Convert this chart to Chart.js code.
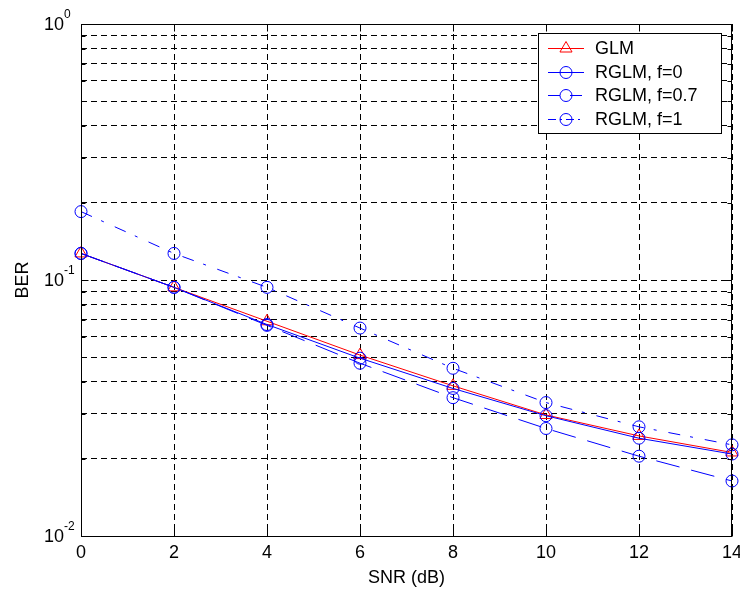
<!DOCTYPE html>
<html><head><meta charset="utf-8">
<script src="https://cdn.jsdelivr.net/npm/chart.js@4/dist/chart.umd.min.js"></script>
<style>html,body{margin:0;padding:0;background:#fff;}#wrap{width:740px;height:592px;position:relative;}</style>
</head><body><div id="wrap"><canvas id="c" width="740" height="592"></canvas></div>
<script>
// ---- data ----
const snrDb = [0, 2, 4, 6, 8, 10, 12, 14];
const berGLM   = [0.127, 0.0936, 0.069, 0.0509, 0.0386, 0.0297, 0.0246, 0.0212];
const berRGLM0 = [0.127, 0.0936, 0.067, 0.0495, 0.0377, 0.0295, 0.0241, 0.0209];
const berRGLM07= [0.127, 0.0936, 0.0665, 0.0473, 0.0347, 0.0263, 0.0205, 0.0164];
const berRGLM1 = [0.185, 0.127, 0.0936, 0.0649, 0.0452, 0.0332, 0.0267, 0.0227];
const seriesNames = ['GLM', 'RGLM, f=0', 'RGLM, f=0.7', 'RGLM, f=1'];
const xTickValues = [0, 2, 4, 6, 8, 10, 12, 14];
const yGridValues = [0.01,0.02,0.03,0.04,0.05,0.06,0.07,0.08,0.09,0.1,0.2,0.3,0.4,0.5,0.6,0.7,0.8,0.9,1];
const yLabelValues = [1, 0.1, 0.01];
const yLabelExponents = ['0', '-1', '-2'];
const xTitle = 'SNR (dB)';
const yTitle = 'BER';

const FONT = '"Liberation Sans", Arial, Helvetica, sans-serif';
const pts = arr => snrDb.map((x, i) => ({x, y: arr[i]}));

const styles = [
  {color:'#ff0000', pointStyle:'triangle', dash:[], legendDash:[], order:4},
  {color:'#0000ff', pointStyle:'circle', dash:[], legendDash:[], order:3},
  {color:'#0000ff', pointStyle:'circle', dash:[24,12], legendDash:[12,10], order:2},
  {color:'#0000ff', pointStyle:'circle', dash:[12,10,3,12], legendDash:[8,4,2,4], order:1}
];
const seriesData = [berGLM, berRGLM0, berRGLM07, berRGLM1];

const datasets = seriesData.map((arr, i) => ({
  label: seriesNames[i],
  data: pts(arr),
  borderColor: styles[i].color,
  backgroundColor: 'rgba(0,0,0,0)',
  borderWidth: 1,
  borderDash: styles[i].dash,
  pointStyle: styles[i].pointStyle,
  pointRadius: styles[i].pointStyle === 'triangle' ? 7 : 6,
  pointBorderColor: styles[i].color,
  pointBackgroundColor: 'rgba(0,0,0,0)',
  pointBorderWidth: 1,
  tension: 0,
  fill: false,
  clip: false,
  order: styles[i].order
}));

const decor = {
  id: 'decor',
  beforeDraw(chart) {
    const ctx = chart.ctx;
    ctx.save(); ctx.fillStyle = '#fff'; ctx.fillRect(0, 0, chart.width, chart.height); ctx.restore();
  },
  afterDraw(chart) {
    const {ctx, chartArea: a, scales: {x, y}} = chart;
    const L = Math.round(a.left) + 0.5, R = Math.round(a.right) - 0.5;
    const T = Math.round(a.top) + 0.5, B = Math.round(a.bottom) + 0.5;
    ctx.save();
    ctx.strokeStyle = '#000'; ctx.lineWidth = 1; ctx.setLineDash([]);
    // frame
    ctx.beginPath();
    ctx.moveTo(L, T); ctx.lineTo(R, T); ctx.lineTo(R, B); ctx.lineTo(L, B); ctx.closePath();
    ctx.stroke();
    // x ticks inward
    ctx.beginPath();
    xTickValues.forEach(v => {
      const px = Math.round(x.getPixelForValue(v)) + 0.5;
      ctx.moveTo(px, B); ctx.lineTo(px, B - 7);
      ctx.moveTo(px, T); ctx.lineTo(px, T + 7);
    });
    // y ticks inward
    yGridValues.forEach(v => {
      const py = Math.round(y.getPixelForValue(v)) + 0.5;
      const major = yLabelValues.includes(v);
      const len = major ? 7 : 4;
      ctx.moveTo(L, py); ctx.lineTo(L + len, py);
      ctx.moveTo(R, py); ctx.lineTo(R - len, py);
    });
    ctx.stroke();

    // tick labels
    ctx.fillStyle = '#000';
    ctx.font = '18px ' + FONT;
    ctx.textAlign = 'center'; ctx.textBaseline = 'middle';
    xTickValues.forEach(v => ctx.fillText(String(v), x.getPixelForValue(v), 553));
    yLabelValues.forEach((v, i) => {
      const py = y.getPixelForValue(v);
      ctx.font = '18px ' + FONT;
      ctx.textAlign = 'right'; ctx.textBaseline = 'middle';
      ctx.fillText('10', 64, py + 1);
      ctx.font = '12px ' + FONT;
      ctx.textAlign = 'left';
      ctx.fillText(yLabelExponents[i], 64, py - 9);
    });
    // axis titles
    ctx.font = '18px ' + FONT;
    ctx.textAlign = 'center'; ctx.textBaseline = 'middle';
    ctx.fillText(xTitle, (a.left + a.right) / 2, 578);
    ctx.save();
    ctx.translate(23, (a.top + a.bottom) / 2);
    ctx.rotate(-Math.PI / 2);
    ctx.fillText(yTitle, 0, 0);
    ctx.restore();

    // legend
    const lx = 538.5, ly = 33.5, lw = 183, lh = 100;
    ctx.fillStyle = '#fff';
    ctx.fillRect(lx, ly, lw, lh);
    ctx.strokeStyle = '#000'; ctx.lineWidth = 1;
    ctx.strokeRect(lx, ly, lw, lh);
    seriesNames.forEach((name, i) => {
      const cy = Math.round(48 + i * 23.5) + 0.5;
      const s = styles[i];
      ctx.save();
      ctx.strokeStyle = s.color; ctx.fillStyle = 'rgba(0,0,0,0)'; ctx.lineWidth = 1;
      ctx.setLineDash(s.legendDash);
      ctx.beginPath(); ctx.moveTo(548, cy); ctx.lineTo(584, cy); ctx.stroke();
      ctx.setLineDash([]);
      Chart.helpers.drawPoint(ctx, {pointStyle: s.pointStyle, radius: s.pointStyle === 'triangle' ? 7 : 6, borderWidth: 1, rotation: 0}, 566, cy);
      ctx.restore();
      ctx.fillStyle = '#000';
      ctx.font = '18px ' + FONT;
      ctx.textAlign = 'left'; ctx.textBaseline = 'middle';
      ctx.fillText(name, 595, cy + 1);
    });
    ctx.restore();
  }
};

new Chart(document.getElementById('c'), {
  type: 'line',
  data: {datasets},
  options: {
    responsive: false,
    animation: false,
    devicePixelRatio: 1,
    layout: {padding: {left: 0, right: 8, top: 24, bottom: 0}},
    plugins: {legend: {display: false}, tooltip: {enabled: false}},
    scales: {
      x: {
        type: 'linear', min: 0, max: 14,
        afterBuildTicks: s => { s.ticks = xTickValues.map(v => ({value: v})); },
        afterFit: s => { s.height = 56; },
        ticks: {display: false},
        grid: {color: '#000', lineWidth: 1, drawTicks: false},
        border: {display: false, dash: [6, 4]}
      },
      y: {
        type: 'logarithmic', min: 0.01, max: 1,
        afterBuildTicks: s => { s.ticks = yGridValues.map(v => ({value: v, major: yLabelValues.includes(v)})); },
        afterFit: s => { s.width = 81; },
        ticks: {display: false},
        grid: {color: '#000', lineWidth: 1, drawTicks: false},
        border: {display: false, dash: [6, 4]}
      }
    }
  },
  plugins: [decor]
});
</script>
</body></html>
